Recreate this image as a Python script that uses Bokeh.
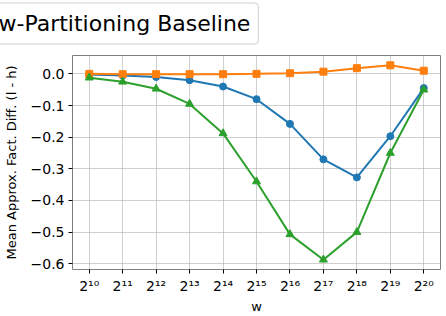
from bokeh.plotting import figure
from bokeh.models import FixedTicker, Label
from bokeh.embed import file_html
from bokeh.resources import INLINE

# data
w_exp = [10, 11, 12, 13, 14, 15, 16, 17, 18, 19, 20]
x_tick_labels = ["2¹⁰", "2¹¹", "2¹²", "2¹³", "2¹⁴", "2¹⁵", "2¹⁶", "2¹⁷", "2¹⁸", "2¹⁹", "2²⁰"]
y_ticks = [0.0, -0.1, -0.2, -0.3, -0.4, -0.5, -0.6]
y_tick_labels = ["0.0", "−0.1", "−0.2", "−0.3", "−0.4", "−0.5", "−0.6"]
blue_vals = [-0.002, -0.005, -0.01, -0.02, -0.04, -0.08, -0.158, -0.27, -0.327, -0.197, -0.045]
orange_vals = [0.0, -0.001, -0.001, -0.001, -0.001, 0.0, 0.002, 0.007, 0.018, 0.027, 0.01]
green_vals = [-0.012, -0.025, -0.047, -0.095, -0.188, -0.34, -0.507, -0.587, -0.5, -0.25, -0.05]
title_text = "w-Partitioning Baseline"

FONT = "DejaVu Sans"

p = figure(width=446, height=316, output_backend="svg", toolbar_location=None,
           x_range=(9.5, 20.5), y_range=(-0.618, 0.058),
           min_border_left=70, min_border_right=6, min_border_top=55, min_border_bottom=41)

p.outline_line_color = "#7f7f7f"
p.outline_line_width = 1
p.background_fill_color = "white"
p.border_fill_color = "white"

p.xgrid.grid_line_color = "#b0b0b0"
p.ygrid.grid_line_color = "#b0b0b0"
p.xgrid.grid_line_alpha = 0.6
p.ygrid.grid_line_alpha = 0.6
p.xgrid.grid_line_width = 1
p.ygrid.grid_line_width = 1

p.xaxis.ticker = FixedTicker(ticks=w_exp)
p.xaxis.major_label_overrides = {x: lab for x, lab in zip(w_exp, x_tick_labels)}
p.yaxis.ticker = FixedTicker(ticks=y_ticks)
p.yaxis.major_label_overrides = {y: lab for y, lab in zip(y_ticks, y_tick_labels)}

for ax in (p.xaxis[0], p.yaxis[0]):
    ax.axis_line_color = None
    ax.minor_tick_line_color = None
    ax.major_tick_out = 4
    ax.major_tick_in = 0
    ax.major_tick_line_color = "black"
    ax.major_label_text_font = FONT
    ax.major_label_text_font_size = "14px"
    ax.major_label_text_color = "black"
    ax.axis_label_text_font = FONT
    ax.axis_label_text_font_size = "13px"
    ax.axis_label_text_font_style = "normal"
    ax.axis_label_text_color = "black"

p.xaxis.axis_label = "w"
p.yaxis.axis_label = "Mean Approx. Fact. Diff. (l - h)"
p.xaxis.axis_label_standoff = 2
p.yaxis.axis_label_standoff = 9
p.yaxis.major_label_standoff = 4
p.xaxis.major_label_standoff = 4

blue = "#1f77b4"
orange = "#ff7f0e"
green = "#2ca02c"

p.line(w_exp, blue_vals, line_color=blue, line_width=2)
p.scatter(w_exp, blue_vals, marker="circle", size=7, fill_color=blue, line_color=blue)
p.line(w_exp, orange_vals, line_color=orange, line_width=2)
p.scatter(w_exp, orange_vals, marker="square", size=7, fill_color=orange, line_color=orange)
p.line(w_exp, green_vals, line_color=green, line_width=2)
p.scatter(w_exp, green_vals, marker="triangle", size=8, fill_color=green, line_color=green)

title = Label(x=-82, y=32, x_units="screen", y_units="screen", text=title_text,
              text_font=FONT, text_font_size="22px", text_color="black",
              text_baseline="middle", text_align="left",
              border_line_color="#d0d0d0", border_line_width=1,
              background_fill_color="white", padding=8,
              border_radius=4)
p.add_layout(title, "above")

open("out.html", "w").write(file_html(p, INLINE))
